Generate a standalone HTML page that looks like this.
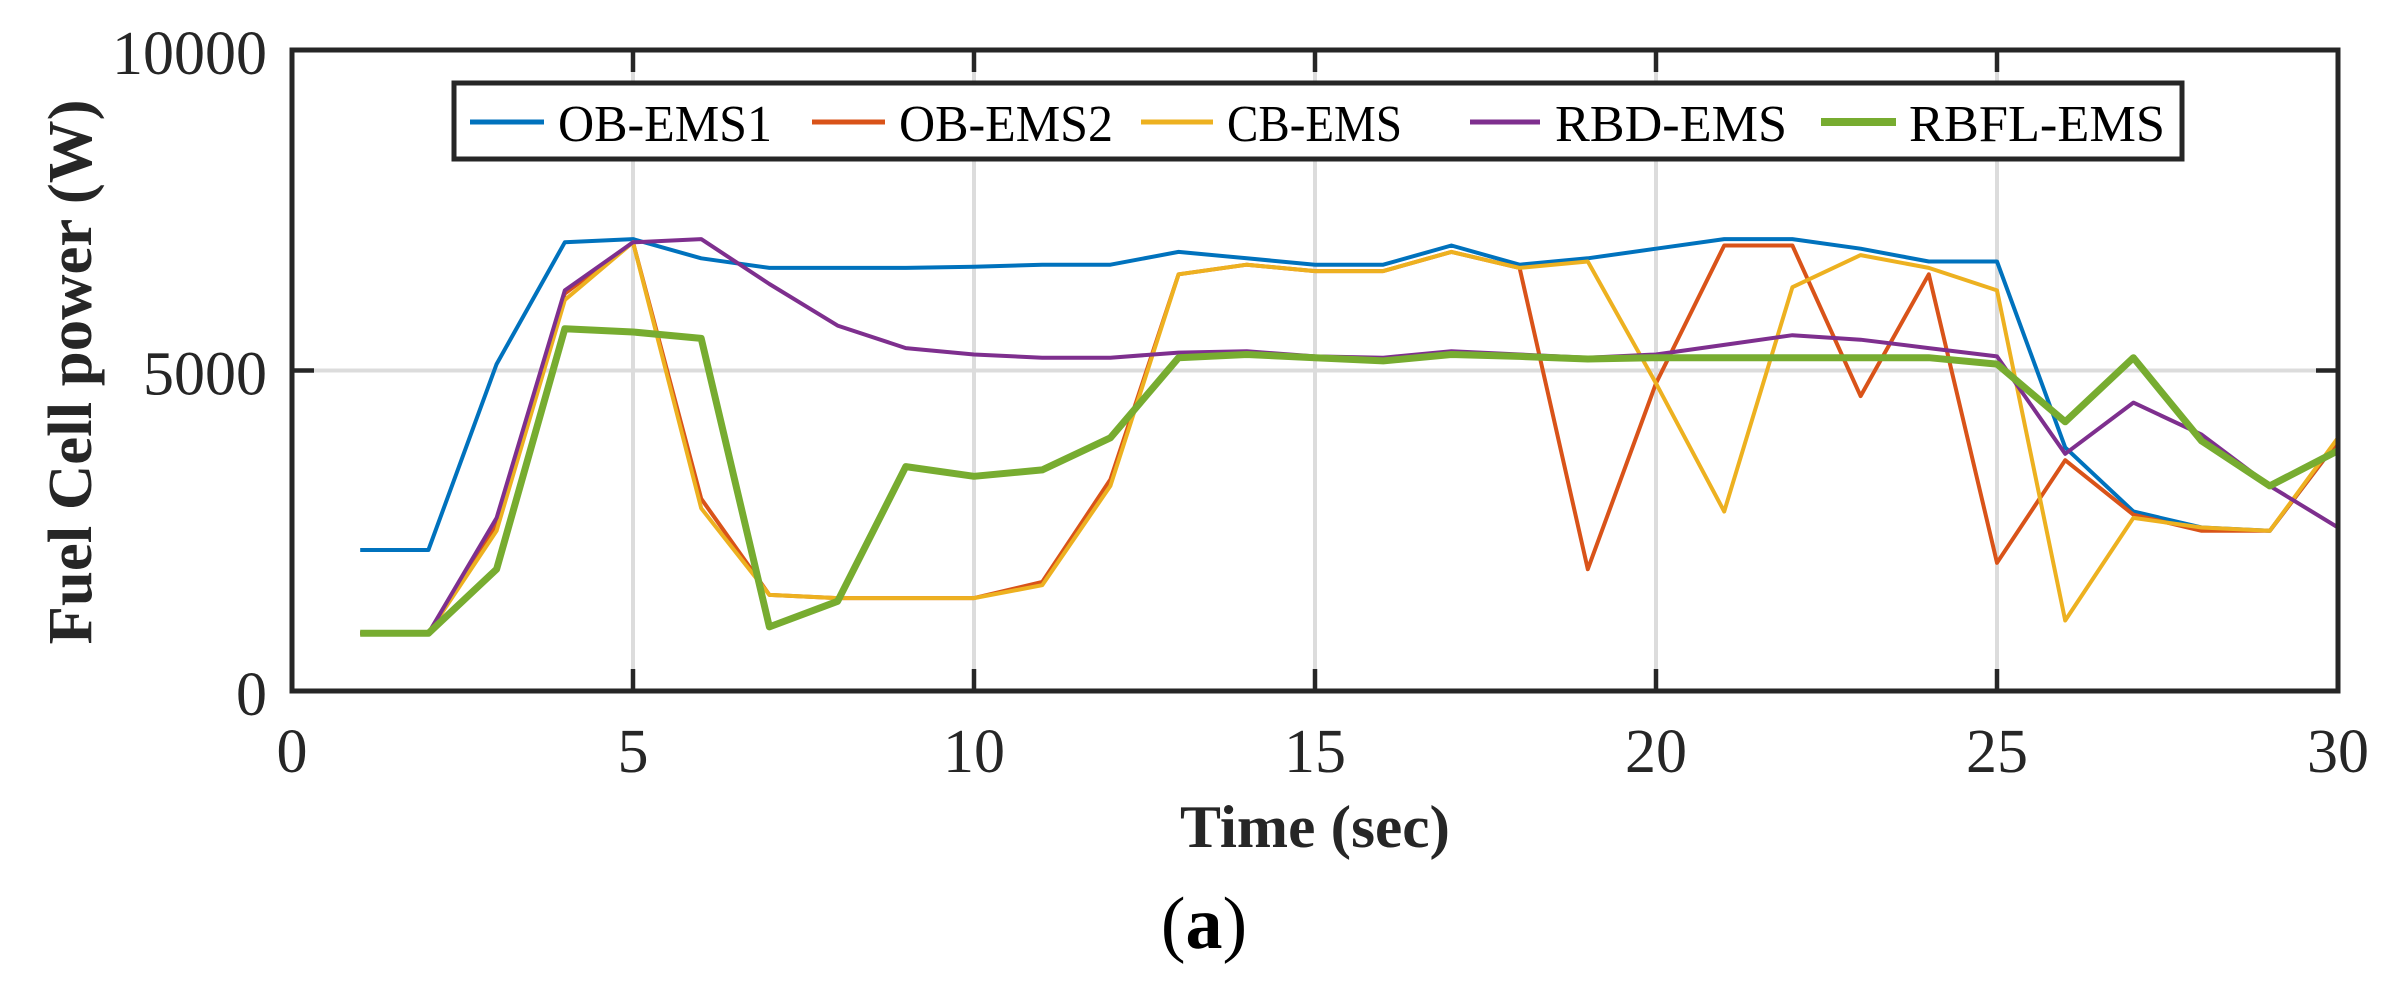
<!DOCTYPE html>
<html><head><meta charset="utf-8"><style>
html,body{margin:0;padding:0;background:#fff;}
svg{display:block;font-family:"Liberation Serif",serif;}
</style></head><body>
<svg id="chart" width="2393" height="982" viewBox="0 0 2393 982" xmlns="http://www.w3.org/2000/svg">
<g id="grid"></g>
<g id="series"></g>
<rect x="292" y="50" width="2046" height="641" fill="none" stroke="#262626" stroke-width="5"/>
<g id="ticks"></g>
<text x="1315" y="847" text-anchor="middle" font-size="60" font-weight="bold" fill="#262626" textLength="270" lengthAdjust="spacingAndGlyphs">Time (sec)</text>
<text transform="translate(91,372) rotate(-90)" text-anchor="middle" font-size="62" font-weight="bold" fill="#262626" textLength="545" lengthAdjust="spacingAndGlyphs">Fuel Cell power (W)</text>
<text x="1204" y="948" text-anchor="middle" font-size="74" fill="#000">(<tspan font-weight="bold">a</tspan>)</text>
<g id="legend">
<rect x="454" y="83" width="1728" height="76" fill="#fff" stroke="#262626" stroke-width="5"/>
</g>
</svg>
<script>
const times=[1,2,3,4,5,6,7,8,9,10,11,12,13,14,15,16,17,18,19,20,21,22,23,24,25,26,27,28,29,30];
const obEms1=[2200,2200,5100,7000,7050,6750,6600,6600,6600,6620,6650,6650,6850,6750,6650,6650,6950,6650,6750,6900,7050,7050,6900,6700,6700,3800,2800,2550,2500,3900];
const obEms2=[900,900,2600,6200,7000,3000,1500,1450,1450,1450,1700,3300,6500,6650,6550,6550,6850,6600,1900,4800,6950,6950,4600,6500,2000,3600,2750,2500,2500,3900];
const cbEms=[900,900,2500,6100,7000,2850,1500,1450,1450,1450,1650,3200,6500,6650,6550,6550,6850,6600,6700,4800,2800,6300,6800,6600,6250,1100,2700,2550,2500,3950];
const rbdEms=[900,900,2700,6250,7000,7050,6350,5700,5350,5250,5200,5200,5280,5300,5220,5200,5300,5250,5200,5250,5400,5550,5480,5350,5220,3700,4500,4000,3200,2550];
const rbflEms=[900,900,1900,5650,5600,5500,1000,1400,3500,3350,3450,3950,5200,5250,5200,5150,5250,5220,5180,5200,5200,5200,5200,5200,5100,4200,5200,3900,3200,3750];
const xTicks=[0,5,10,15,20,25,30];
const yTicks=[0,5000,10000];
const seriesNames=["OB-EMS1","OB-EMS2","CB-EMS","RBD-EMS","RBFL-EMS"];

const NS="http://www.w3.org/2000/svg";
const X0=292,X1=2338,Y0=691,Y1=50;
const xs=t=>X0+(t-0)/(30-0)*(X1-X0);
const ys=v=>Y0-(v-0)/(10000-0)*(Y0-Y1);
function mk(tag,attrs,parent){const e=document.createElementNS(NS,tag);for(const k in attrs)e.setAttribute(k,attrs[k]);parent.appendChild(e);return e;}
const grid=document.getElementById('grid'),ticks=document.getElementById('ticks'),ser=document.getElementById('series'),leg=document.getElementById('legend');
xTicks.forEach(t=>{
 const x=xs(t);
 if(t>0&&t<30){const g=mk('line',{x1:x,x2:x,y1:Y1,y2:Y0,stroke:'#dcdcdc','stroke-width':4},grid);
 
 }
 const a=mk('line',{x1:x,x2:x,y1:Y0,y2:Y0-22,stroke:'#262626','stroke-width':4.5},ticks);
 
 
 const b=mk('line',{x1:x,x2:x,y1:Y1,y2:Y1+22,stroke:'#262626','stroke-width':4.5},ticks);
 
 
 const l=mk('text',{x:x,y:772,'text-anchor':'middle','font-size':62,fill:'#262626'},ticks);
 l.textContent=t;
 
 
});
yTicks.forEach(v=>{
 const y=ys(v);
 if(v>0&&v<10000){const g=mk('line',{x1:X0,x2:X1,y1:y,y2:y,stroke:'#dcdcdc','stroke-width':4},grid);
 
 }
 const a=mk('line',{x1:X0,x2:X0+22,y1:y,y2:y,stroke:'#262626','stroke-width':4.5},ticks);
 
 
 const b=mk('line',{x1:X1,x2:X1-22,y1:y,y2:y,stroke:'#262626','stroke-width':4.5},ticks);
 
 
 const l=mk('text',{x:267,y:y+24,'text-anchor':'end','font-size':62,fill:'#262626'},ticks);
 l.textContent=v;
 
 
});
const data=[obEms1,obEms2,cbEms,rbdEms,rbflEms];
const colors=['#0072BD','#D95319','#EDB120','#7E2F8E','#77AC30'];
const widths=[4,4,4,4,7];
[0,1,2,3,4].forEach(i=>{
 const pts=times.map((t,j)=>xs(t).toFixed(1)+','+ys(data[i][j]).toFixed(1)).join(' ');
 const p=mk('polyline',{points:pts,fill:'none',stroke:colors[i],'stroke-width':widths[i],'stroke-linejoin':'round'},ser);
 
 
});
const legLine=[[470,544],[812,885],[1141,1213],[1470,1540],[1821,1896]];
const legText=[558,899,1227,1555,1909];
const legLen=[214,214,175,232,256];
seriesNames.forEach((n,i)=>{
 const l=mk('line',{x1:legLine[i][0],x2:legLine[i][1],y1:122,y2:122,stroke:colors[i],'stroke-width':widths[i]+1},leg);
 
 
 const t=mk('text',{x:legText[i],y:141,'font-size':52,fill:'#000',textLength:legLen[i],lengthAdjust:'spacingAndGlyphs'},leg);
 t.textContent=n;
 
 
});
</script>
</body></html>
